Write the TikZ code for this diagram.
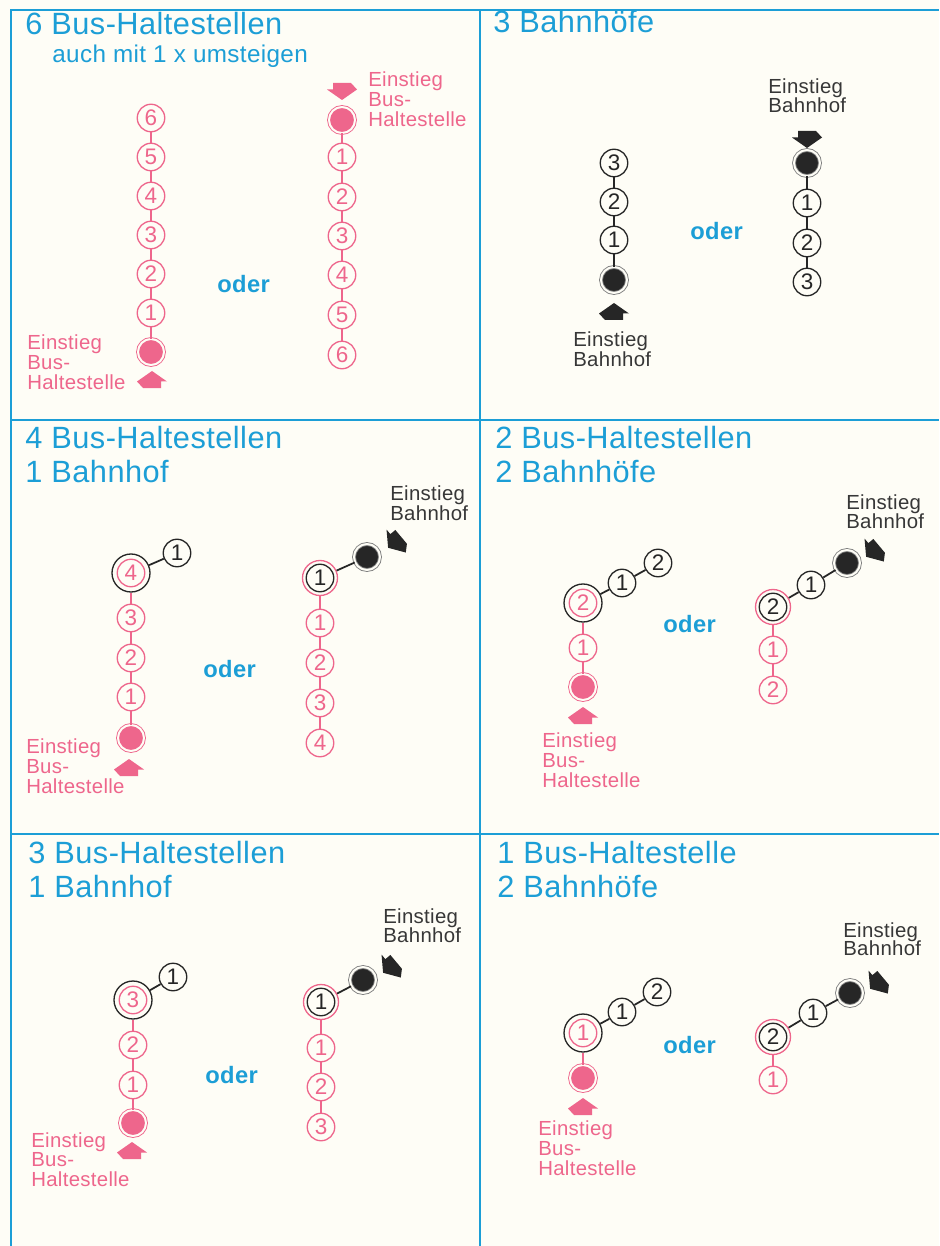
\documentclass[tikz,border=0pt]{standalone}
\usepackage{fontspec}
\setmainfont{Liberation Sans}[LetterSpace=1.5]
\definecolor{cyanc}{RGB}{28,158,214}
\definecolor{pinkc}{RGB}{238,102,140}
\definecolor{inkc}{RGB}{38,38,38}
\definecolor{labgray}{RGB}{55,55,55}
\definecolor{paper}{RGB}{254,253,246}
\newcommand\ttlfnt{\fontsize{17.5}{20}\selectfont}
\newcommand\subfnt{\fontsize{13.8}{16}\selectfont}
\newcommand\lblfnt{\fontsize{11.6}{13}\selectfont}
\newcommand\numfnt{\fontsize{12.8}{13}\selectfont}
\newcommand\oderfnt{\fontsize{13.5}{15}\selectfont\bfseries}
\tikzset{
  bus/.style={circle, draw=pinkc, text=pinkc, line width=0.75pt, minimum size=0.55cm, inner sep=0pt, font=\numfnt},
  rail/.style={bus, draw=inkc, text=inkc},
  busstart/.style={circle, fill=pinkc, draw=pinkc, double=paper, double distance=0.04cm, line width=0.5pt, minimum size=0.52cm, inner sep=0pt},
  railstart/.style={busstart, fill=inkc, draw=gray},
  railring/.style={circle, draw=inkc, line width=0.75pt, minimum size=0.76cm, inner sep=0pt},
  busring/.style={circle, draw=pinkc, line width=0.75pt, minimum size=0.70cm, inner sep=0pt},
  buslink/.style={draw=pinkc, line width=1pt},
  raillink/.style={draw=inkc, line width=1pt},
  frame/.style={draw=cyanc, line width=1.4pt},
  ttl/.style={anchor=base west, inner sep=0pt, text=cyanc, font=\ttlfnt},
  subttl/.style={anchor=base west, inner sep=0pt, text=cyanc, font=\subfnt},
  buslbl/.style={anchor=base west, inner sep=0pt, text=pinkc, font=\lblfnt},
  raillbl/.style={anchor=base west, inner sep=0pt, text=labgray, font=\lblfnt},
  oder/.style={anchor=base west, inner sep=0pt, text=cyanc, font=\oderfnt},
  blkarrow/.pic={\fill (-15,1.5) -- (0,-9) -- (15,1.5) -- (9,1.5) -- (9,8) -- (-9,8) -- cycle;}
}
\begin{document}
\begin{tikzpicture}[x=0.02cm, y=-0.02cm]
\useasboundingbox (0,0) rectangle (939,1246);
\fill[paper] (0,0) rectangle (939,1246);
% frame
\draw[frame] (11,1246) -- (11,10) -- (939,10);
\draw[frame] (480,10) -- (480,1246);
\draw[frame] (11,420) -- (939,420);
\draw[frame] (11,834) -- (939,834);

% ================= Panel 1 =================
\node[ttl] (p1t) at (25,35) {6 Bus-Haltestellen};
\node[subttl] (p1s) at (52,63) {auch mit 1 x umsteigen};
\node[bus] (a6) at (151,118) {6};
\node[bus] (a5) at (151,157) {5};
\node[bus] (a4) at (151,196) {4};
\node[bus] (a3) at (151,235) {3};
\node[bus] (a2) at (151,274) {2};
\node[bus] (a1) at (151,313) {1};
\node[busstart] (a0) at (151,352) {};
\draw[buslink] (a0) -- (a1) -- (a2) -- (a3) -- (a4) -- (a5) -- (a6);
\pic[color=pinkc] at (152,380) {blkarrow};
\node[buslbl] (p1la) at (27,350) {Einstieg};
\node[buslbl] (p1lb) at (27,370) {Bus-};
\node[buslbl] (p1lc) at (27,390) {Haltestelle};
\node[oder] (p1o) at (217,293) {oder};
\node[busstart] (b0) at (342,120) {};
\node[bus] (b1) at (342,157) {1};
\node[bus] (b2) at (342,197) {2};
\node[bus] (b3) at (342,236) {3};
\node[bus] (b4) at (342,275) {4};
\node[bus] (b5) at (342,315) {5};
\node[bus] (b6) at (342,355) {6};
\draw[buslink] (b0) -- (b1) -- (b2) -- (b3) -- (b4) -- (b5) -- (b6);
\pic[color=pinkc, rotate=180] at (342,91) {blkarrow};
\node[buslbl] (p1ra) at (368,87) {Einstieg};
\node[buslbl] (p1rb) at (368,107) {Bus-};
\node[buslbl] (p1rc) at (368,127) {Haltestelle};

% ================= Panel 2 =================
\node[ttl] (p2t) at (493,33) {3 Bahnhöfe};
\node[rail] (c3) at (614,163) {3};
\node[rail] (c2) at (614,202) {2};
\node[rail] (c1) at (614,240) {1};
\node[railstart] (c0) at (614,280) {};
\draw[raillink] (c0) -- (c1) -- (c2) -- (c3);
\pic[color=inkc] at (614,312) {blkarrow};
\node[raillbl] (p2la) at (573,347) {Einstieg};
\node[raillbl] (p2lb) at (573,367) {Bahnhof};
\node[oder] (p2o) at (690,240) {oder};
\node[railstart] (d0) at (807,163) {};
\node[rail] (d1) at (807,203) {1};
\node[rail] (d2) at (807,243) {2};
\node[rail] (d3) at (807,282) {3};
\draw[raillink] (d0) -- (d1) -- (d2) -- (d3);
\pic[color=inkc, rotate=180] at (807,139) {blkarrow};
\node[raillbl] (p2ra) at (768,94) {Einstieg};
\node[raillbl] (p2rb) at (768,113) {Bahnhof};

% ================= Panel 3 =================
\node[ttl] (p3t) at (25,448) {4 Bus-Haltestellen};
\node[ttl] (p3u) at (25,482) {1 Bahnhof};
\node[railring] (e4r) at (131,573) {};
\node[bus] (e4) at (e4r) {4};
\node[bus] (e3) at (131,618) {3};
\node[bus] (e2) at (131,658) {2};
\node[bus] (e1) at (131,697) {1};
\node[busstart] (e0) at (131,738) {};
\node[rail] (e5) at (177,553) {1};
\draw[buslink] (e0) -- (e1) -- (e2) -- (e3) -- (e4r);
\draw[raillink] (e4r) -- (e5);
\pic[color=pinkc] at (129,768) {blkarrow};
\node[buslbl] (p3la) at (26,753) {Einstieg};
\node[buslbl] (p3lb) at (26,773) {Bus-};
\node[buslbl] (p3lc) at (26,793) {Haltestelle};
\node[oder] (p3o) at (203,677) {oder};
\node[busring] (f1r) at (320,578) {};
\node[rail] (f1) at (f1r) {1};
\node[bus] (f2) at (320,623) {1};
\node[bus] (f3) at (320,663) {2};
\node[bus] (f4) at (320,703) {3};
\node[bus] (f5) at (320,743) {4};
\node[railstart] (f0) at (367,557) {};
\draw[buslink] (f1r) -- (f2) -- (f3) -- (f4) -- (f5);
\draw[raillink] (f1r) -- (f0);
\pic[color=inkc, rotate=130] at (395,542) {blkarrow};
\node[raillbl] (p3ra) at (390,500) {Einstieg};
\node[raillbl] (p3rb) at (390,520) {Bahnhof};

% ================= Panel 4 =================
\node[ttl] (p4t) at (495,448) {2 Bus-Haltestellen};
\node[ttl] (p4u) at (495,482) {2 Bahnhöfe};
\node[railring] (g2r) at (583,603) {};
\node[bus] (g2) at (g2r) {2};
\node[bus] (g1) at (583,648) {1};
\node[busstart] (g0) at (583,687) {};
\node[rail] (g3) at (622,583) {1};
\node[rail] (g4) at (658,563) {2};
\draw[buslink] (g0) -- (g1) -- (g2r);
\draw[raillink] (g2r) -- (g3) -- (g4);
\pic[color=pinkc] at (583,716) {blkarrow};
\node[buslbl] (p4la) at (542,747) {Einstieg};
\node[buslbl] (p4lb) at (542,767) {Bus-};
\node[buslbl] (p4lc) at (542,787) {Haltestelle};
\node[oder] (p4o) at (663,632) {oder};
\node[busring] (h2r) at (773,607) {};
\node[rail] (h2) at (h2r) {2};
\node[bus] (h3) at (773,650) {1};
\node[bus] (h4) at (773,690) {2};
\node[rail] (h1) at (811,585) {1};
\node[railstart] (h0) at (847,563) {};
\draw[buslink] (h2r) -- (h3) -- (h4);
\draw[raillink] (h2r) -- (h1) -- (h0);
\pic[color=inkc, rotate=130] at (873,551) {blkarrow};
\node[raillbl] (p4ra) at (846,509) {Einstieg};
\node[raillbl] (p4rb) at (846,528) {Bahnhof};

% ================= Panel 5 =================
\node[ttl] (p5t) at (28,863) {3 Bus-Haltestellen};
\node[ttl] (p5u) at (28,897) {1 Bahnhof};
\node[railring] (i3r) at (133,1000) {};
\node[bus] (i3) at (i3r) {3};
\node[bus] (i2) at (133,1045) {2};
\node[bus] (i1) at (133,1085) {1};
\node[busstart] (i0) at (133,1123) {};
\node[rail] (i4) at (173,977) {1};
\draw[buslink] (i0) -- (i1) -- (i2) -- (i3r);
\draw[raillink] (i3r) -- (i4);
\pic[color=pinkc] at (132,1151) {blkarrow};
\node[buslbl] (p5la) at (31,1147) {Einstieg};
\node[buslbl] (p5lb) at (31,1166) {Bus-};
\node[buslbl] (p5lc) at (31,1186) {Haltestelle};
\node[oder] (p5o) at (205,1083) {oder};
\node[busring] (j1r) at (321,1002) {};
\node[rail] (j1) at (j1r) {1};
\node[bus] (j2) at (321,1048) {1};
\node[bus] (j3) at (321,1087) {2};
\node[bus] (j4) at (321,1127) {3};
\node[railstart] (j0) at (363,980) {};
\draw[buslink] (j1r) -- (j2) -- (j3) -- (j4);
\draw[raillink] (j1r) -- (j0);
\pic[color=inkc, rotate=130] at (390,967) {blkarrow};
\node[raillbl] (p5ra) at (383,923) {Einstieg};
\node[raillbl] (p5rb) at (383,942) {Bahnhof};

% ================= Panel 6 =================
\node[ttl] (p6t) at (497,863) {1 Bus-Haltestelle};
\node[ttl] (p6u) at (497,897) {2 Bahnhöfe};
\node[railring] (k1r) at (583,1033) {};
\node[bus] (k1) at (k1r) {1};
\node[busstart] (k0) at (583,1078) {};
\node[rail] (k2) at (622,1012) {1};
\node[rail] (k3) at (657,992) {2};
\draw[buslink] (k0) -- (k1r);
\draw[raillink] (k1r) -- (k2) -- (k3);
\pic[color=pinkc] at (583,1107) {blkarrow};
\node[buslbl] (p6la) at (538,1135) {Einstieg};
\node[buslbl] (p6lb) at (538,1155) {Bus-};
\node[buslbl] (p6lc) at (538,1175) {Haltestelle};
\node[oder] (p6o) at (663,1053) {oder};
\node[busring] (m2r) at (773,1037) {};
\node[rail] (m2) at (m2r) {2};
\node[bus] (m3) at (773,1080) {1};
\node[rail] (m1) at (813,1013) {1};
\node[railstart] (m0) at (850,993) {};
\draw[buslink] (m2r) -- (m3);
\draw[raillink] (m2r) -- (m1) -- (m0);
\pic[color=inkc, rotate=130] at (877,983) {blkarrow};
\node[raillbl] (p6ra) at (843,937) {Einstieg};
\node[raillbl] (p6rb) at (843,955) {Bahnhof};
\end{tikzpicture}
\end{document}
